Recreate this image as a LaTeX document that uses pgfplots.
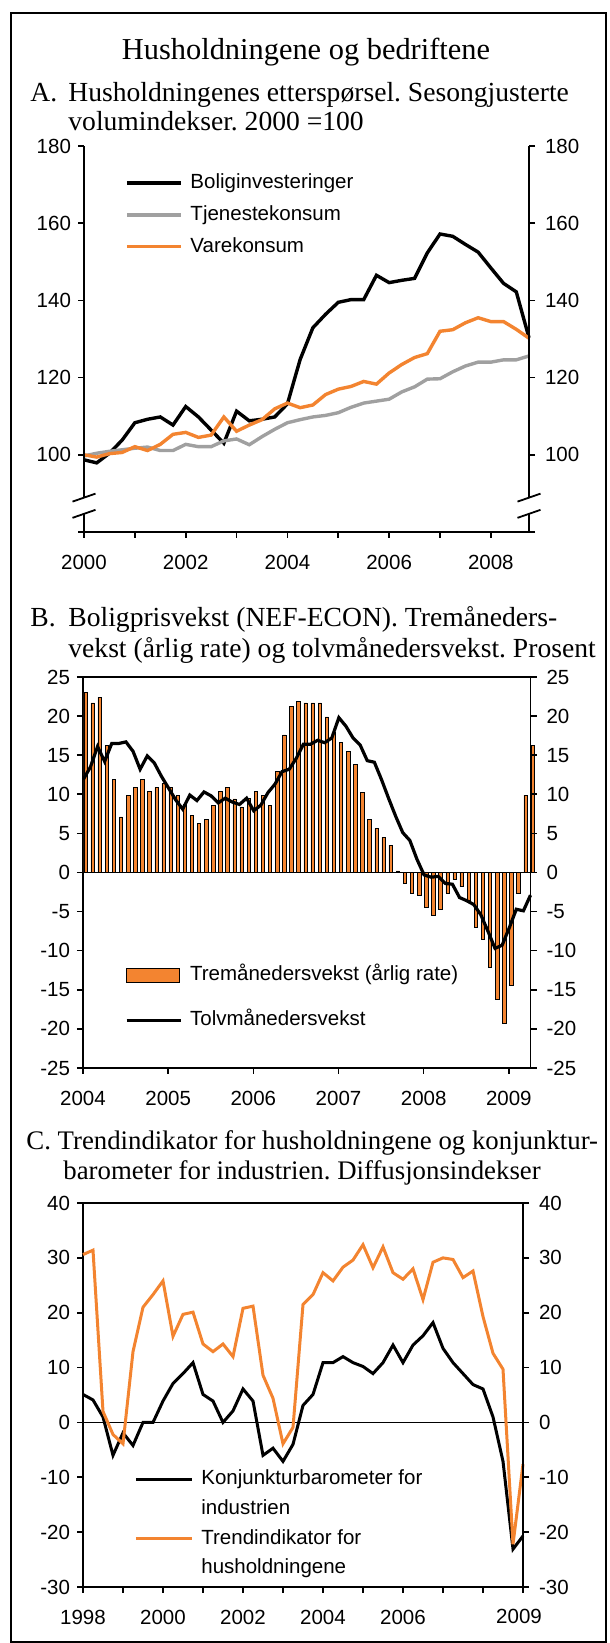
\documentclass[border=0pt]{standalone}
\usepackage{fontspec}
\setmainfont{Liberation Serif}
\setsansfont{Liberation Sans}
\usepackage{pgfplots}
\pgfplotsset{compat=1.18}
\definecolor{orng}{RGB}{243,132,48}
\definecolor{gry}{RGB}{160,160,160}
\newcommand\tf{\sffamily\fontsize{10.25}{12}\selectfont}
\newcommand\ttl{\rmfamily\fontsize{13.8}{17}\selectfont\frenchspacing}
\newcommand\ttlc{\rmfamily\fontsize{13.4}{17}\selectfont\frenchspacing}

\pgfplotstableread{
x y
2000.00 98.7
2000.25 97.9
2000.50 100.4
2000.75 103.8
2001.00 108.3
2001.25 109.2
2001.50 109.8
2001.75 107.7
2002.00 112.5
2002.25 109.8
2002.50 106.4
2002.75 103.0
2003.00 111.3
2003.25 108.8
2003.50 109.2
2003.75 109.8
2004.00 113.2
2004.25 124.7
2004.50 132.9
2004.75 136.4
2005.00 139.5
2005.25 140.2
2005.50 140.2
2005.75 146.5
2006.00 144.6
2006.25 145.2
2006.50 145.7
2006.75 152.3
2007.00 157.2
2007.25 156.6
2007.50 154.5
2007.75 152.5
2008.00 148.4
2008.25 144.4
2008.50 142.2
2008.75 130.3
}\bolig

\pgfplotstableread{
x y
2000.00 99.7
2000.25 100.4
2000.50 100.9
2000.75 101.3
2001.00 101.7
2001.25 102.0
2001.50 101.1
2001.75 101.1
2002.00 102.7
2002.25 102.1
2002.50 102.1
2002.75 103.6
2003.00 104.1
2003.25 102.6
2003.50 104.7
2003.75 106.6
2004.00 108.3
2004.25 109.1
2004.50 109.8
2004.75 110.2
2005.00 110.9
2005.25 112.3
2005.50 113.4
2005.75 113.9
2006.00 114.4
2006.25 116.3
2006.50 117.6
2006.75 119.6
2007.00 119.7
2007.25 121.5
2007.50 123.0
2007.75 124.0
2008.00 124.0
2008.25 124.6
2008.50 124.6
2008.75 125.6
}\tjen

\pgfplotstableread{
x y
2000.00 100.0
2000.25 99.4
2000.50 100.3
2000.75 100.6
2001.00 102.1
2001.25 101.1
2001.50 102.7
2001.75 105.3
2002.00 105.8
2002.25 104.5
2002.50 105.1
2002.75 109.8
2003.00 106.1
2003.25 107.7
2003.50 109.1
2003.75 111.9
2004.00 113.4
2004.25 112.2
2004.50 112.9
2004.75 115.6
2005.00 117.0
2005.25 117.7
2005.50 119.0
2005.75 118.3
2006.00 121.2
2006.25 123.4
2006.50 125.2
2006.75 126.2
2007.00 132.0
2007.25 132.4
2007.50 134.2
2007.75 135.5
2008.00 134.5
2008.25 134.5
2008.50 132.5
2008.75 130.2
}\vare

\pgfplotstableread{
x y
0.35 23.0
1.35 21.7
2.35 22.4
3.35 16.3
4.35 11.9
5.35 7.1
6.35 9.9
7.35 10.9
8.35 11.9
9.35 10.4
10.35 10.9
11.35 11.4
12.35 10.9
13.35 9.9
14.35 8.7
15.35 7.3
16.35 6.3
17.35 6.8
18.35 8.6
19.35 10.4
20.35 10.9
21.35 9.4
22.35 8.4
23.35 9.5
24.35 10.4
25.35 9.9
26.35 8.6
27.35 12.9
28.35 17.6
29.35 21.2
30.35 21.9
31.35 21.7
32.35 21.7
33.35 21.7
34.35 19.9
35.35 17.9
36.35 16.6
37.35 15.5
38.35 13.8
39.35 10.2
40.35 6.8
41.35 5.6
42.35 4.5
43.35 3.5
44.35 0.2
45.35 -1.4
46.35 -2.6
47.35 -2.9
48.35 -4.5
49.35 -5.5
50.35 -4.7
51.35 -2.6
52.35 -0.9
53.35 -1.8
54.35 -3.5
55.35 -7.0
56.35 -8.5
57.35 -12.1
58.35 -16.2
59.35 -19.3
60.35 -14.4
61.35 -2.6
62.35 9.9
63.35 16.3
}\tremnd

\pgfplotstableread{
x y
0.05 11.9
1.05 13.5
2.05 16.1
3.05 14.2
4.05 16.5
5.05 16.5
6.05 16.7
7.05 15.5
8.05 13.2
9.05 14.9
10.05 14.0
11.05 12.3
12.05 10.8
13.05 9.3
14.05 8.1
15.05 9.9
16.05 9.2
17.05 10.3
18.05 9.8
19.05 8.9
20.05 9.5
21.05 9.0
22.05 8.7
23.05 9.5
24.05 7.9
25.05 8.6
26.05 10.2
27.05 11.3
28.05 12.9
29.05 13.2
30.05 14.6
31.05 16.4
32.05 16.4
33.05 16.9
34.05 16.6
35.05 17.2
36.05 19.8
37.05 18.7
38.05 17.2
39.05 16.3
40.05 14.3
41.05 14.1
42.05 11.9
43.05 9.5
44.05 7.2
45.05 5.1
46.05 4.1
47.05 1.7
48.05 -0.3
49.05 -0.6
50.05 -0.5
51.05 -1.4
52.05 -1.5
53.05 -3.2
54.05 -3.6
55.05 -4.1
56.05 -5.4
57.05 -7.5
58.05 -9.7
59.05 -9.3
60.05 -7.1
61.05 -4.7
62.05 -4.9
63.05 -2.9
}\tolv

\pgfplotstableread{
x y
1998.00 5.1
1998.25 4.1
1998.50 1.0
1998.75 -6.0
1999.00 -1.9
1999.25 -4.2
1999.50 0.0
1999.75 0.0
2000.00 3.9
2000.25 7.1
2000.50 8.9
2000.75 10.9
2001.00 5.1
2001.25 3.9
2001.50 0.0
2001.75 2.1
2002.00 6.1
2002.25 3.9
2002.50 -6.0
2002.75 -4.7
2003.00 -7.1
2003.25 -4.0
2003.50 3.1
2003.75 5.1
2004.00 10.9
2004.25 10.9
2004.50 12.0
2004.75 10.9
2005.00 10.2
2005.25 8.9
2005.50 10.9
2005.75 14.1
2006.00 10.9
2006.25 14.1
2006.50 15.8
2006.75 18.2
2007.00 13.5
2007.25 10.9
2007.50 8.9
2007.75 6.9
2008.00 6.1
2008.25 1.0
2008.50 -7.1
2008.75 -23.1
2009.00 -20.7
}\konj

\pgfplotstableread{
x y
1998.00 30.6
1998.25 31.4
1998.50 2.0
1998.75 -2.2
1999.00 -3.9
1999.25 12.9
1999.50 21.0
1999.75 23.3
2000.00 25.8
2000.25 15.7
2000.50 19.7
2000.75 20.1
2001.00 14.3
2001.25 12.9
2001.50 14.3
2001.75 12.0
2002.00 20.8
2002.25 21.2
2002.50 8.6
2002.75 4.4
2003.00 -3.9
2003.25 -0.9
2003.50 21.5
2003.75 23.3
2004.00 27.3
2004.25 25.8
2004.50 28.3
2004.75 29.6
2005.00 32.4
2005.25 28.2
2005.50 32.0
2005.75 27.3
2006.00 26.1
2006.25 28.0
2006.50 22.4
2006.75 29.2
2007.00 30.0
2007.25 29.7
2007.50 26.4
2007.75 27.6
2008.00 19.3
2008.25 12.6
2008.50 9.7
2008.75 -22.2
2009.00 -7.6
}\trend

\pgfplotsset{
 base/.style={
  scale only axis,
  tick align=outside,
  major tick length=3pt,
  tick style={black, line width=0.8pt},
  axis line style={line width=0.9pt},
  tick label style={font=\tf},
  /pgf/number format/assume math mode=true,
  xticklabel style={yshift=-5pt},
  clip=false,
 },
 leg/.style={
  legend style={draw=none, fill=none, inner sep=0pt, font=\tf,
    nodes={inner sep=0pt, text height=7.5pt, text depth=2.2pt},
    /tikz/every odd column/.append style={column sep=4pt}},
  legend cell align=left,
 },
}

\begin{document}
\begin{tikzpicture}
\path[use as bounding box] (0pt,0pt) rectangle (305pt,821.5pt);
\draw[line width=1pt] (5.5pt,0.5pt) rectangle (303pt,815pt);

% titles
\node[anchor=base, inner sep=0pt, font=\rmfamily\fontsize{15.2}{19}\selectfont] at (153pt,791.75pt) {Husholdningene og bedriftene};
\node[anchor=base west, inner sep=0pt, font=\ttl] at (15pt,770.75pt) {A.};
\node[anchor=base west, inner sep=0pt, font=\ttl] at (34pt,770.75pt) {Husholdningenes etterspørsel. Sesongjusterte};
\node[anchor=base west, inner sep=0pt, font=\ttl] at (34pt,756.25pt) {volumindekser. 2000 =100};
\node[anchor=base west, inner sep=0pt, font=\ttl] at (15pt,508.25pt) {B.};
\node[anchor=base west, inner sep=0pt, font=\ttl] at (34pt,508.25pt) {Boligprisvekst (NEF-ECON). Tremåneders-};
\node[anchor=base west, inner sep=0pt, font=\ttl] at (34pt,492.75pt) {vekst (årlig rate) og tolvmånedersvekst. Prosent};
\node[anchor=base west, inner sep=0pt, font=\ttlc] at (13pt,246.75pt) {C. Trendindikator for husholdningene og konjunktur-};
\node[anchor=base west, inner sep=0pt, font=\ttlc] at (31.5pt,231.75pt) {barometer for industrien. Diffusjonsindekser};

% ---------- Panel A ----------
\begin{axis}[base, at={(42pt,555.5pt)}, anchor=south west, width=222.5pt, height=193pt,
  xmin=2000, xmax=2008.75, ymin=80, ymax=180,
  axis x line*=bottom, axis y line*=left, separate axis lines,
  y axis line style={draw=none},
  xtick={2000,...,2008}, xticklabels={2000,,2002,,2004,,2006,,2008},
  ytick={80,100,...,180}, yticklabels={,100,120,140,160,180},
  leg, legend style={at={(axis cs:2000.8,173)}, anchor=north west, row sep=6.2pt},
  legend image code/.code={\draw[#1] (0pt,0pt) -- (27pt,0pt);},
]
\addplot[black, line width=1.7pt] table {\bolig};
\addlegendentry{Boliginvesteringer}
\addplot[gry, line width=1.7pt] table {\tjen};
\addlegendentry{Tjenestekonsum}
\addplot[orng, line width=1.7pt] table {\vare};
\addlegendentry{Varekonsum}
\draw[line width=0.9pt] (axis cs:2000,80) -- (axis cs:2000,84.7);
\draw[line width=0.9pt] (axis cs:2000,88.9) -- (axis cs:2000,180);
\draw[line width=0.9pt] (axis cs:2008.75,80) -- (axis cs:2008.75,84.7);
\draw[line width=0.9pt] (axis cs:2008.75,88.9) -- (axis cs:2008.75,180);
\draw[line width=0.9pt] ([xshift=-5.75pt,yshift=-2pt]axis cs:2000,88.9) -- ([xshift=5.75pt,yshift=2pt]axis cs:2000,88.9);
\draw[line width=0.9pt] ([xshift=-5.75pt,yshift=-2pt]axis cs:2000,84.7) -- ([xshift=5.75pt,yshift=2pt]axis cs:2000,84.7);
\draw[line width=0.9pt] ([xshift=-5.75pt,yshift=-2pt]axis cs:2008.75,88.9) -- ([xshift=5.75pt,yshift=2pt]axis cs:2008.75,88.9);
\draw[line width=0.9pt] ([xshift=-5.75pt,yshift=-2pt]axis cs:2008.75,84.7) -- ([xshift=5.75pt,yshift=2pt]axis cs:2008.75,84.7);
\end{axis}
\begin{axis}[base, at={(42pt,555.5pt)}, anchor=south west, width=222.5pt, height=193pt,
  xmin=2000, xmax=2008.75, ymin=80, ymax=180,
  axis x line=none, axis y line*=right, y axis line style={draw=none},
  ytick={80,100,...,180}, yticklabels={,100,120,140,160,180},
  yticklabel style={xshift=1.5pt},
]
\end{axis}

% ---------- Panel B ----------
\begin{axis}[base, at={(41.5pt,287.5pt)}, anchor=south west, width=223.75pt, height=195.5pt,
  xmin=0, xmax=63.05, ymin=-25, ymax=25,
  xtick pos=left, ytick pos=left,
  xtick={0,12,...,60}, xticklabels={2004,2005,2006,2007,2008,2009},
  ytick={-25,-20,...,25}, yticklabels={-25,-20,-15,-10,-5,0,5,10,15,20,25},
  leg, legend style={at={(axis cs:5.85,-11.8)}, anchor=north west, row sep=13.2pt},
]
\addplot[ybar, bar width=1.7pt, fill=orng, draw=black, line width=0.25pt, forget plot] table {\tremnd};
\draw[line width=0.6pt] (axis cs:0,0) -- (axis cs:63.05,0);
\addplot[black, line width=1.6pt, forget plot] table {\tolv};
\addlegendimage{legend image code/.code={\draw[fill=orng,draw=black,line width=0.3pt] (0pt,-3.5pt) rectangle (26.5pt,3.5pt);}}
\addlegendentry{Tremånedersvekst (årlig rate)}
\addlegendimage{legend image code/.code={\draw[black,line width=1.6pt] (0pt,0pt) -- (27pt,0pt);}}
\addlegendentry{Tolvmånedersvekst}
\end{axis}
\begin{axis}[base, at={(41.5pt,287.5pt)}, anchor=south west, width=223.75pt, height=195.5pt,
  xmin=0, xmax=63.05, ymin=-25, ymax=25,
  axis x line=none, axis y line*=right,
  ytick={-25,-20,...,25}, yticklabels={-25,-20,-15,-10,-5,0,5,10,15,20,25},
  yticklabel style={xshift=1.5pt},
]
\end{axis}

% ---------- Panel C ----------
\begin{axis}[base, at={(41.5pt,28pt)}, anchor=south west, width=220pt, height=192pt,
  xmin=1998, xmax=2009, ymin=-30, ymax=40,
  xtick pos=left, ytick pos=left,
  xtick={1998,...,2009}, xticklabels={1998,,2000,,2002,,2004,,2006,,,},
  extra x ticks={2008.9}, extra x tick labels={2009},
  extra x tick style={major tick length=0pt, xticklabel style={yshift=-2.5pt}},
  ytick={-30,-20,...,40}, yticklabels={-30,-20,-10,0,10,20,30,40},
  leg, legend style={at={(axis cs:1999.275,-8.5)}, anchor=north west, row sep=5.2pt},
  legend image code/.code={\draw[#1] (0pt,0pt) -- (28pt,0pt);},
]
\draw[line width=0.6pt] (axis cs:1998,0) -- (axis cs:2009,0);
\addplot[black, line width=1.5pt, forget plot] table {\konj};
\addplot[orng, line width=1.5pt, forget plot] table {\trend};
\addlegendimage{black, line width=1.5pt}
\addlegendentry{Konjunkturbarometer for}
\addlegendimage{empty legend}
\addlegendentry{industrien}
\addlegendimage{orng, line width=1.5pt}
\addlegendentry{Trendindikator for}
\addlegendimage{empty legend}
\addlegendentry{husholdningene}
\end{axis}
\begin{axis}[base, at={(41.5pt,28pt)}, anchor=south west, width=220pt, height=192pt,
  xmin=1998, xmax=2009, ymin=-30, ymax=40,
  axis x line=none, axis y line*=right,
  ytick={-30,-20,...,40}, yticklabels={-30,-20,-10,0,10,20,30,40},
  yticklabel style={xshift=1.5pt},
]
\end{axis}
\end{tikzpicture}
\end{document}
